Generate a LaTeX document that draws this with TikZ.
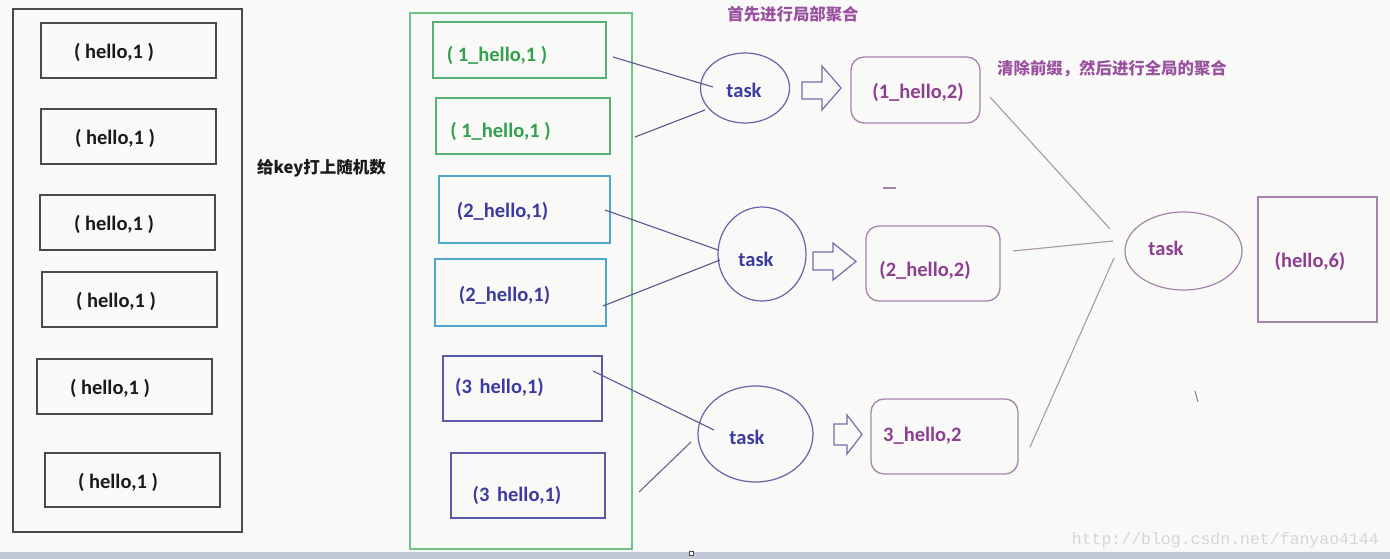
\documentclass[tikz,border=0pt]{standalone}
\usepackage{fontspec}
\setmainfont{Carlito}
\newfontfamily\cjk{Noto Sans CJK SC}
\newfontfamily\wmfont{Liberation Mono}
\usetikzlibrary{shapes.geometric}
\definecolor{bgc}{HTML}{F9F9F7}
\definecolor{blk}{HTML}{1A1A1A}
\definecolor{grayb}{HTML}{4A4A4A}
\definecolor{greenout}{HTML}{72C08A}
\definecolor{greenbox}{HTML}{5AAF72}
\definecolor{greentxt}{HTML}{33A050}
\definecolor{cyanbox}{HTML}{4FA6CC}
\definecolor{bluetxt}{HTML}{3B3BA0}
\definecolor{bluebox}{HTML}{5A5AAA}
\definecolor{taskb}{HTML}{6464A8}
\definecolor{linec}{HTML}{585890}
\definecolor{arrowc}{HTML}{7070AA}
\definecolor{purpb}{HTML}{A583AD}
\definecolor{purptxt}{HTML}{8E3E90}
\definecolor{titlec}{HTML}{9A52A0}
\definecolor{rline}{HTML}{A898AA}
\definecolor{barc}{HTML}{C3C8D6}
\definecolor{wmc}{HTML}{D6D6D6}
\begin{document}
\begin{tikzpicture}[x=1pt,y=-1pt,
  box/.style={draw=#1, line width=1.4pt, inner sep=0pt, rectangle},
  lbl/.style={font=\bfseries\fontsize{20.5}{20.5}\selectfont, text=#1, inner sep=0pt},
  tasknode/.style={draw=#1, line width=1.2pt, ellipse, inner sep=0pt},
  rbox/.style={draw=purpb, line width=1.3pt, rounded corners=13pt, inner sep=0pt, rectangle},
  title/.style={font=\cjk\bfseries\fontsize{16.4}{16.4}\selectfont, text=titlec, inner sep=0pt},
  conn/.style={draw=linec, line width=1.1pt},
  rconn/.style={draw=rline, line width=1.1pt},
  barrow/.style={draw=arrowc, line width=1.2pt, line join=miter}
]
\fill[bgc] (0,0) rectangle (1390,559);
\useasboundingbox (0,0) rectangle (1390,559);
% bottom bar
\fill[barc] (0,551) rectangle (1390,559);
\fill[white!85!barc] (0,550) rectangle (1390,552);
\node[draw=grayb, fill=white, line width=0.6pt, minimum size=4pt, inner sep=0pt] (sq) at (691.5,553.5) {};

% left column
\node[box=grayb, minimum width=229, minimum height=523] (lout) at (127.5,270.5) {};
\node[box=grayb, minimum width=175, minimum height=55] (l1) at (128.5,50.5) {};
\node[box=grayb, minimum width=175, minimum height=55] (l2) at (128.5,136.5) {};
\node[box=grayb, minimum width=175, minimum height=55] (l3) at (127.5,222.5) {};
\node[box=grayb, minimum width=175, minimum height=55] (l4) at (129.5,299.5) {};
\node[box=grayb, minimum width=175, minimum height=55] (l5) at (124.5,386.5) {};
\node[box=grayb, minimum width=175, minimum height=54] (l6) at (132.5,480) {};
\node[lbl=blk] (t1) at (114,52) {( hello,1 )};
\node[lbl=blk] (t2) at (115,138) {( hello,1 )};
\node[lbl=blk] (t3) at (114,224) {( hello,1 )};
\node[lbl=blk] (t4) at (116,301) {( hello,1 )};
\node[lbl=blk] (t5) at (110,388) {( hello,1 )};
\node[lbl=blk] (t6) at (118,482) {( hello,1 )};

\node[font=\cjk\bfseries\fontsize{16.5}{16.5}\selectfont, text=blk, anchor=west, inner sep=0pt] (keylbl) at (257,168) {给key打上随机数};

% middle column
\node[box=greenout, minimum width=222, minimum height=536] (gout) at (521,281) {};
\node[box=greenbox, minimum width=173, minimum height=56] (g1) at (519.5,50) {};
\node[box=greenbox, minimum width=174, minimum height=56] (g2) at (523,126) {};
\node[box=cyanbox, minimum width=171, minimum height=67] (c1) at (524.5,209.5) {};
\node[box=cyanbox, minimum width=171, minimum height=67] (c2) at (520.5,292.5) {};
\node[box=bluebox, minimum width=159, minimum height=65] (b1) at (522.5,388.5) {};
\node[box=bluebox, minimum width=154, minimum height=65] (b2) at (528,485.5) {};
\node[lbl=greentxt] (gt1) at (497,55) {( 1\_hello,1 )};
\node[lbl=greentxt] (gt2) at (500.5,131) {( 1\_hello,1 )};
\node[lbl=bluetxt] (ct1) at (502.5,211) {(2\_hello,1)};
\node[lbl=bluetxt] (ct2) at (504.5,295) {(2\_hello,1)};
\node[lbl=bluetxt] (bt1) at (499.5,387) {(3 \hspace{3pt}hello,1)};
\node[lbl=bluetxt] (bt2) at (517,495) {(3 \hspace{3pt}hello,1)};

% tasks
\node[tasknode=taskb, minimum width=89, minimum height=70] (task1) at (745,88) {};
\node[tasknode=taskb, minimum width=88, minimum height=94] (task2) at (762,254) {};
\node[tasknode=taskb, minimum width=115, minimum height=96] (task3) at (755.5,434) {};
\node[lbl=bluetxt] (tt1) at (744,90) {task};
\node[lbl=bluetxt] (tt2) at (756,259) {task};
\node[lbl=bluetxt] (tt3) at (747,437) {task};

\node[title] (title1) at (793,14) {首先进行局部聚合};
\node[title] (title2) at (1112,69) {清除前缀，然后进行全局的聚合};

% connectors to tasks
\coordinate (a1s) at (613,57);  \coordinate (a1e) at (713,87);
\coordinate (a2s) at (635,137); \coordinate (a2e) at (705,110);
\coordinate (a3s) at (605,210); \coordinate (a3e) at (718,250);
\coordinate (a4s) at (603,306); \coordinate (a4e) at (720,260);
\coordinate (a5s) at (593,371); \coordinate (a5e) at (714,430);
\coordinate (a6s) at (639,492); \coordinate (a6e) at (691,442);
\draw[conn] (a1s) -- (a1e);
\draw[conn] (a2s) -- (a2e);
\draw[conn] (a3s) -- (a3e);
\draw[conn] (a4s) -- (a4e);
\draw[conn] (a5s) -- (a5e);
\draw[conn, draw=linec!70!gray] (a6s) -- (a6e);

% block arrows
\draw[barrow] (802,82) -- (822,82) -- (822,66) -- (841,88) -- (822,110) -- (822,99) -- (802,99) -- cycle;
\draw[barrow] (813,252) -- (833,252) -- (833,243) -- (856,261.5) -- (833,280) -- (833,270) -- (813,270) -- cycle;
\draw[barrow] (834,424) -- (847,424) -- (847,415) -- (862,434.5) -- (847,454) -- (847,445) -- (834,445) -- cycle;

% rounded result boxes
\node[rbox, minimum width=129, minimum height=66] (r1) at (915.5,90) {};
\node[rbox, minimum width=134, minimum height=75] (r2) at (933,263.5) {};
\node[rbox, minimum width=147, minimum height=75] (r3) at (944.5,436.5) {};
\node[lbl=purptxt] (rt1) at (918,92) {(1\_hello,2)};
\node[lbl=purptxt] (rt2) at (925,270) {(2\_hello,2)};
\node[lbl=purptxt, anchor=west] (rt3) at (883,436) {3\_hello,2};
\coordinate (dash1) at (883,188); \coordinate (dash2) at (896,188);
\draw[draw=purpb, line width=2pt] (dash1) -- (dash2);

% global aggregation
\coordinate (b1s) at (990,97);   \coordinate (b1e) at (1110,229);
\coordinate (b2s) at (1013,251); \coordinate (b2e) at (1113,241);
\coordinate (b3s) at (1030,447); \coordinate (b3e) at (1114,258);
\draw[rconn] (b1s) -- (b1e);
\draw[rconn] (b2s) -- (b2e);
\draw[rconn] (b3s) -- (b3e);
\node[tasknode=purpb, minimum width=117, minimum height=78] (task4) at (1183.5,251) {};
\node[lbl=purptxt] (tt4) at (1166,248) {task};
\node[box=purpb, minimum width=119, minimum height=125] (final) at (1317.5,259.5) {};
\node[lbl=purptxt] (ft) at (1310,261) {(hello,6)};
\coordinate (tick1) at (1195,391); \coordinate (tick2) at (1198,402);
\draw[draw=gray, line width=1pt] (tick1) -- (tick2);

% watermark
\node[font=\wmfont\fontsize{16.5}{16.5}\selectfont, text=wmc, anchor=east, inner sep=0pt] (wm) at (1379,540) {http://blog.csdn.net/fanyao4144};
\end{tikzpicture}
\end{document}
